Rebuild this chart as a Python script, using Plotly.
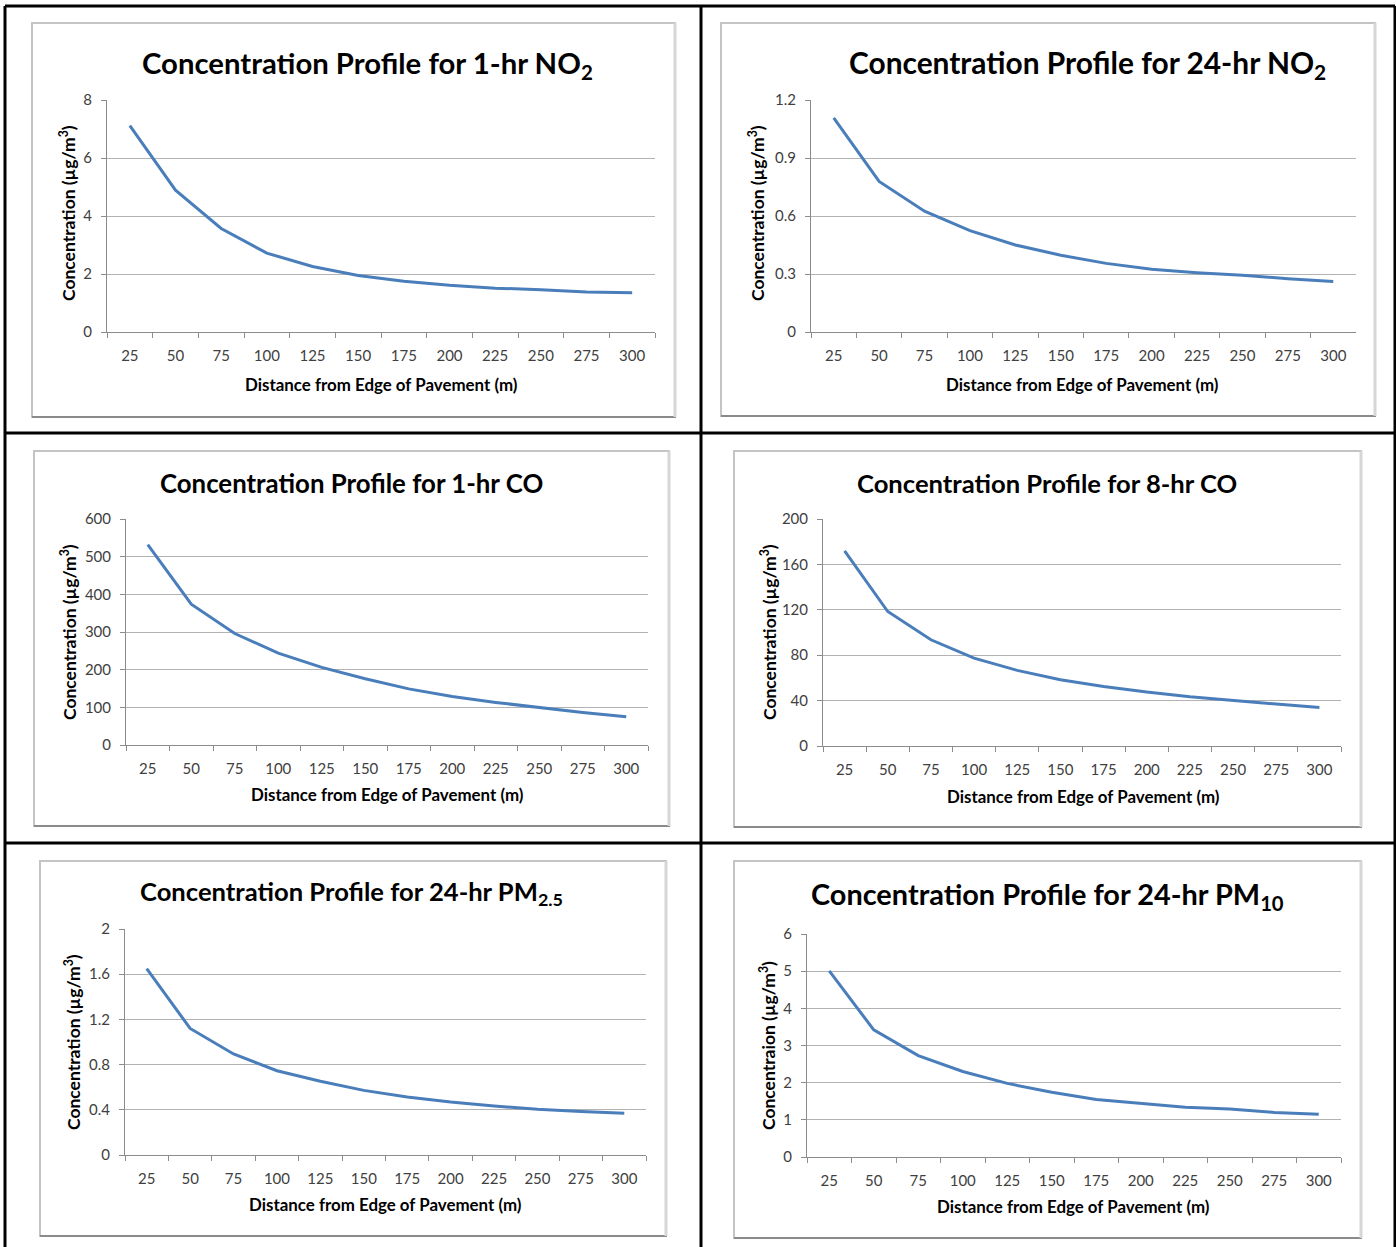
import plotly.graph_objects as go

W, H = 1396, 1247

distance = ["25", "50", "75", "100", "125", "150", "175", "200", "225", "250", "275", "300"]

no2_1hr = [7.12, 4.89, 3.57, 2.72, 2.26, 1.95, 1.75, 1.61, 1.51, 1.46, 1.38, 1.35]
no2_24hr = [1.107, 0.779, 0.625, 0.524, 0.450, 0.397, 0.355, 0.324, 0.307, 0.294, 0.276, 0.261]
co_1hr = [532, 374, 296, 244, 206, 176, 149, 129, 113, 99, 86, 75]
co_8hr = [172, 118.5, 93.6, 77.4, 66.6, 58.4, 52.5, 47.5, 43.4, 40.0, 37.0, 34.0]
pm25_24hr = [1.65, 1.12, 0.894, 0.746, 0.652, 0.572, 0.513, 0.469, 0.434, 0.404, 0.386, 0.369]
pm10_24hr = [5.01, 3.42, 2.73, 2.30, 1.98, 1.74, 1.55, 1.45, 1.34, 1.29, 1.20, 1.15]

titles = [
    "Concentration Profile for 1-hr NO<sub>2</sub>",
    "Concentration Profile for 24-hr NO<sub>2</sub>",
    "Concentration Profile for 1-hr CO",
    "Concentration Profile for 8-hr CO",
    "Concentration Profile for 24-hr PM<sub>2.5</sub>",
    "Concentration Profile for 24-hr PM<sub>10</sub>",
]
y_titles = [
    "Concentration (µg/m<sup>3</sup>)",
    "Concentration (µg/m<sup>3</sup>)",
    "Concentration (µg/m<sup>3</sup>)",
    "Concentration (µg/m<sup>3</sup>)",
    "Concentration (µg/m<sup>3</sup>)",
    "Concentraion (µg/m<sup>3</sup>)",
]
x_title = "Distance from Edge of Pavement (m)"
y_max = [8, 1.2, 600, 200, 2, 6]
y_step = [2, 0.3, 100, 40, 0.4, 1]
series = [no2_1hr, no2_24hr, co_1hr, co_8hr, pm25_24hr, pm10_24hr]

# layout (pixels): chart box, plot area, title centre, x-title centre, y-title centre, title size
layout_px = [
    dict(box=(32, 23, 675, 417), plot=(107, 100, 655, 332), tc=(368, 64), xc=(381, 384), yc=(67, 213), ts=29.3),
    dict(box=(721, 23, 1375, 416), plot=(811, 100, 1356, 332), tc=(1087, 64), xc=(1082, 384), yc=(756, 213), ts=29.9),
    dict(box=(34, 451, 669, 826), plot=(126, 519, 648, 745), tc=(351, 483), xc=(387, 795), yc=(68, 632), ts=25.8),
    dict(box=(734, 451, 1361, 827), plot=(823, 519, 1341, 746), tc=(1047, 483), xc=(1083, 796), yc=(768, 632), ts=25.6),
    dict(box=(40, 861, 666, 1236), plot=(125, 929, 646, 1155), tc=(351, 893), xc=(385, 1204), yc=(72, 1042), ts=25.6),
    dict(box=(734, 861, 1361, 1238), plot=(807, 934, 1341, 1157), tc=(1047, 895), xc=(1073, 1206), yc=(767, 1045), ts=28.9),
]

FONT = "Lato"
fig = go.Figure()
shapes = []
annotations = []


def px_x(x):
    return x / W


def px_y(y):
    return 1 - y / H


for i in range(6):
    n = "" if i == 0 else str(i + 1)
    L = layout_px[i]
    x0, y0, x1, y1 = L["plot"]
    fig.add_trace(go.Scatter(
        x=distance, y=series[i], mode="lines",
        line=dict(color="#4a7ebb", width=3),
        xaxis="x" + n, yaxis="y" + n, showlegend=False,
    ))
    fig.layout["xaxis" + n] = dict(
        domain=[px_x(x0), px_x(x1)], anchor="y" + n, type="category",
        range=[-0.5, len(distance) - 0.5],
        showgrid=False, showline=True, linecolor="#8c8c8c", linewidth=1,
        ticks="outside", tickson="boundaries", ticklen=5, tickcolor="#8c8c8c",
        tickfont=dict(family=FONT, size=15, color="#404040"),
        ticklabelstandoff=10, zeroline=False, fixedrange=True, automargin=False,
    )
    fig.layout["yaxis" + n] = dict(
        domain=[px_y(y1), px_y(y0)], anchor="x" + n,
        range=[0, y_max[i]], dtick=y_step[i], tick0=0,
        showgrid=True, gridcolor="#b3b3b3", gridwidth=1,
        showline=True, linecolor="#8c8c8c", linewidth=1,
        ticks="outside", ticklen=5, tickcolor="#8c8c8c",
        tickfont=dict(family=FONT, size=15, color="#404040"),
        ticklabelstandoff=6, zeroline=False, fixedrange=True, automargin=False,
    )
    # chart box
    bx0, by0, bx1, by1 = L["box"]
    shapes.append(dict(type="rect", xref="paper", yref="paper",
                       x0=px_x(bx0), x1=px_x(bx1), y0=px_y(by1), y1=px_y(by0),
                       line=dict(color="#c4c4c4", width=2), layer="below"))
    shapes.append(dict(type="line", xref="paper", yref="paper",
                       x0=px_x(bx0), x1=px_x(bx1 + 1), y0=px_y(by1), y1=px_y(by1),
                       line=dict(color="#8a8a8a", width=2)))
    shapes.append(dict(type="line", xref="paper", yref="paper",
                       x0=px_x(bx1), x1=px_x(bx1), y0=px_y(by0), y1=px_y(by1),
                       line=dict(color="#d6d6d6", width=3)))
    # texts
    annotations.append(dict(text="<b>" + titles[i] + "</b>", xref="paper", yref="paper",
                            x=px_x(L["tc"][0]), y=px_y(L["tc"][1]), showarrow=False,
                            xanchor="center", yanchor="middle",
                            font=dict(family=FONT, size=L["ts"], color="#000000")))
    annotations.append(dict(text="<b>" + x_title + "</b>", xref="paper", yref="paper",
                            x=px_x(L["xc"][0]), y=px_y(L["xc"][1]), showarrow=False,
                            xanchor="center", yanchor="middle",
                            font=dict(family=FONT, size=16.9, color="#000000")))
    annotations.append(dict(text="<b>" + y_titles[i] + "</b>", xref="paper", yref="paper",
                            x=px_x(L["yc"][0]), y=px_y(L["yc"][1]), showarrow=False,
                            xanchor="center", yanchor="middle", textangle=-90,
                            font=dict(family=FONT, size=17.5, color="#000000")))

# table borders
tbl = dict(color="#000000", width=3)
for (ax0, ay0, ax1, ay1) in [
    (5, 6, 1395, 6), (5, 6, 5, 1250), (1395, 6, 1395, 1250),
    (701, 6, 701, 1250), (5, 433, 1395, 433), (5, 843, 1395, 843),
]:
    shapes.append(dict(type="line", xref="paper", yref="paper",
                       x0=px_x(ax0), x1=px_x(ax1), y0=px_y(ay0), y1=px_y(ay1), line=tbl))

fig.update_layout(
    template="none",
    width=W, height=H, margin=dict(l=0, r=0, t=0, b=0, pad=0, autoexpand=False),
    paper_bgcolor="#ffffff", plot_bgcolor="#ffffff",
    shapes=shapes, annotations=annotations, showlegend=False,
)

fig.write_html("out.html", config={"displayModeBar": False})
